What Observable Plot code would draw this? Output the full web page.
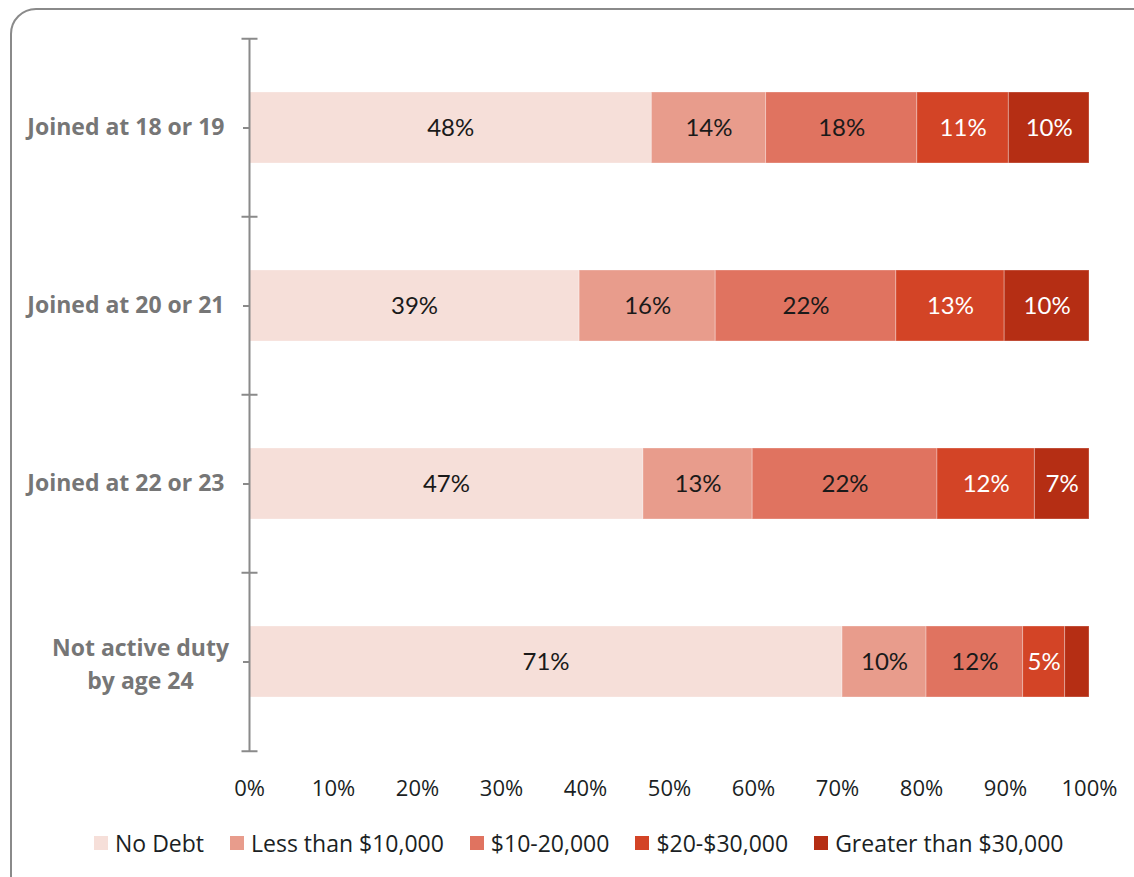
<!DOCTYPE html>
<html>
<head>
<meta charset="utf-8">
<script src="https://cdn.jsdelivr.net/npm/d3@7"></script>
<script src="https://cdn.jsdelivr.net/npm/@observablehq/plot@0.6"></script>
<style>
  html, body { margin: 0; padding: 0; background: #fff; }
  body { width: 1134px; height: 877px; overflow: hidden; position: relative; font-family: "Open Sans", sans-serif; }
  #frame { position: absolute; left: 10px; top: 8px; width: 1160px; height: 920px; border: 2px solid #8a8a8a; border-radius: 26px; box-sizing: border-box; }
  #chart { position: absolute; left: 0; top: 0; }
  #legend { position: absolute; left: 94px; top: 828px; display: flex; align-items: center; gap: 26px; font-family: "Open Sans", sans-serif; font-size: 23px; color: #1b1f24; line-height: 30px; white-space: nowrap; }
  .item { display: flex; align-items: center; }
  .sw { width: 14px; height: 14px; margin-right: 7px; display: inline-block; }
</style>
</head>
<body>
<div id="frame"></div>
<div id="chart"></div>
<div id="legend"></div>
<script>
// ---- data ----
const categories = ["Joined at 18 or 19", "Joined at 20 or 21", "Joined at 22 or 23", "Not active duty by age 24"];
const series = ["No Debt", "Less than $10,000", "$10-20,000", "$20-$30,000", "Greater than $30,000"];
const colors = ["#F6DFD9", "#E89C8C", "#E07360", "#D34426", "#B52E14"];
const noDebt      = [47.9, 39.3, 46.9, 70.6];
const lessThan10k = [13.6, 16.2, 13.0, 10.0];
const from10to20k = [18.0, 21.5, 22.0, 11.5];
const from20to30k = [10.9, 12.9, 11.6, 5.0];
const over30k     = [9.6, 10.1, 6.5, 2.9];
const xTicks = [0, 10, 20, 30, 40, 50, 60, 70, 80, 90, 100];

const seriesValues = [noDebt, lessThan10k, from10to20k, from20to30k, over30k];
const data = [];
categories.forEach((c, i) => {
  series.forEach((s, j) => {
    data.push({cat: c, series: s, value: seriesValues[j][i]});
  });
});
const whiteText = new Set(["$20-$30,000", "Greater than $30,000"]);
const lbl = d => d.value < 4 ? "" : Math.round(d.value) + "%";

const W = 1134, H = 810, mt = 38, mb = 58, ml = 249, mr = 45;
const step = (H - mt - mb) / categories.length;
const axisColor = "#8a8a8a";

const hline = {
  draw(context, size) {
    const r = Math.sqrt(size / Math.PI);
    context.moveTo(-r, 0);
    context.lineTo(r, 0);
  }
};

const lastCat = categories[categories.length - 1];
const fmtCat = d => d === lastCat ? "Not active duty\nby age 24" : d;

const chart = Plot.plot({
  width: W,
  height: H,
  marginTop: mt,
  marginBottom: mb,
  marginLeft: ml,
  marginRight: mr,
  style: {fontFamily: "Open Sans, sans-serif", fontSize: "22px", background: "transparent"},
  x: {domain: [0, 100], axis: null},
  y: {type: "band", domain: categories, paddingInner: 0.6, paddingOuter: 0.3, axis: null},
  color: {domain: series, range: colors},
  marks: [
    Plot.barX(data, Plot.stackX({x: "value", y: "cat", fill: "series", stroke: "#fff", strokeOpacity: 0.3, strokeWidth: 1})),
    Plot.text(data, Plot.stackX({x: "value", y: "cat", text: d => whiteText.has(d.series) ? "" : lbl(d), fill: "#1a1a1a", fontFamily: "Lato, sans-serif", fontSize: 24})),
    Plot.text(data, Plot.stackX({x: "value", y: "cat", text: d => whiteText.has(d.series) ? lbl(d) : "", fill: "#ffffff", fontFamily: "Lato, sans-serif", fontSize: 24})),
    Plot.ruleX([0], {stroke: axisColor, strokeWidth: 2}),
    Plot.axisY({ticks: categories.slice(0, 3), label: null, tickSize: 6, tickPadding: 19, stroke: axisColor, strokeWidth: 2, fill: "#767676", fontWeight: "bold", fontSize: 23, textAnchor: "end"}),
    Plot.axisY({ticks: [lastCat], label: null, tickSize: 6, tickPadding: 103, tickFormat: fmtCat, stroke: axisColor, strokeWidth: 2, fill: "#767676", fontWeight: "bold", fontSize: 23, textAnchor: "middle", lineHeight: 1.42}),
    Plot.dot(categories, {x: () => 0, y: d => d, dy: -step / 2, symbol: hline, r: 8, stroke: axisColor, strokeWidth: 2}),
    Plot.dot([lastCat], {x: () => 0, y: d => d, dy: step / 2, symbol: hline, r: 8, stroke: axisColor, strokeWidth: 2}),
    Plot.axisX({ticks: xTicks, label: null, tickSize: 0, tickPadding: 28, tickFormat: d => d + "%", fill: "#1b1f24", fontSize: 22})
  ]
});
document.getElementById("chart").appendChild(chart);

const legend = document.getElementById("legend");
series.forEach((s, i) => {
  const it = document.createElement("div");
  it.className = "item";
  const sw = document.createElement("span");
  sw.className = "sw";
  sw.style.background = colors[i];
  const t = document.createElement("span");
  t.textContent = s;
  it.appendChild(sw);
  it.appendChild(t);
  legend.appendChild(it);
});
</script>
</body>
</html>
